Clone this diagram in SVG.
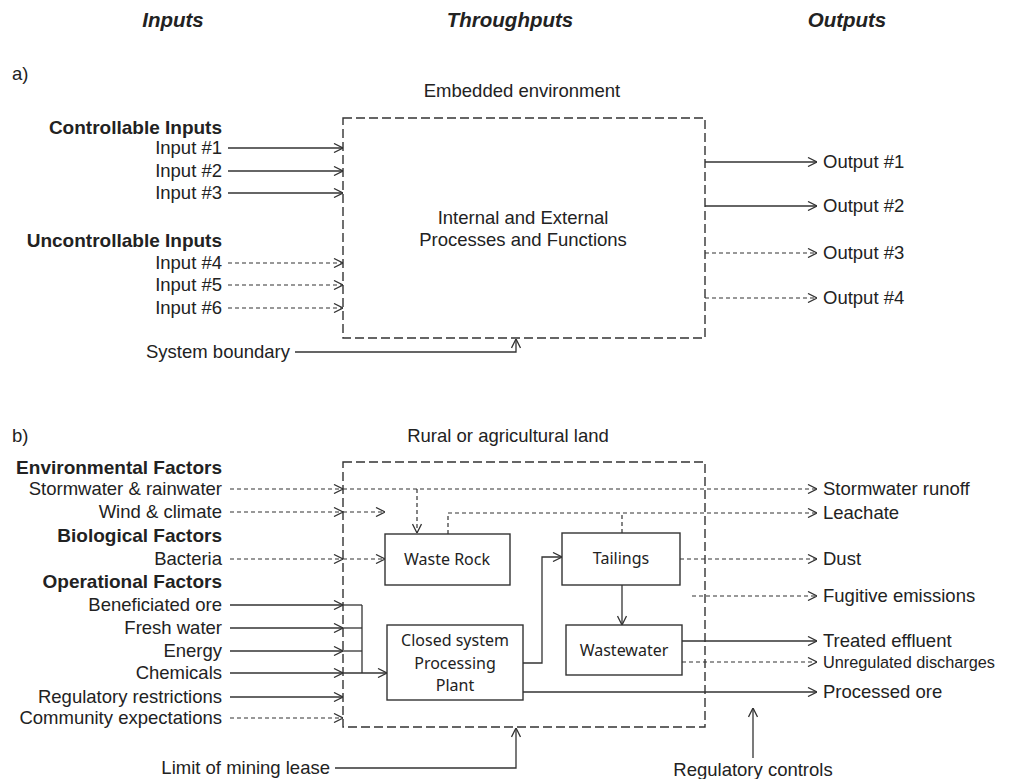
<svg xmlns="http://www.w3.org/2000/svg" width="1009" height="779" viewBox="0 0 1009 779">
<style>
text{font-family:"Liberation Sans",Arial,sans-serif;fill:#222;font-size:18.5px}
.h{font-weight:bold;font-style:italic;font-size:20.5px}
.b{font-weight:bold;font-size:19px}
.e{text-anchor:end}
.m{text-anchor:middle}
.bx{font-family:"Noto Sans","Open Sans",sans-serif;font-size:16px;text-anchor:middle}
.s{fill:none;stroke:#333;stroke-width:1.3}
.d{fill:none;stroke:#333;stroke-width:1.2;stroke-dasharray:4 3}
.bd{fill:none;stroke:#333;stroke-width:1.4;stroke-dasharray:9 4}
.node{fill:#fff;stroke:#333;stroke-width:1.4}
</style>
<defs>
<marker id="a" viewBox="0 0 10 10" refX="10" refY="5" markerWidth="10" markerHeight="10" markerUnits="userSpaceOnUse" orient="auto">
<path d="M1,0.5 L10,5 L1,9.5" fill="none" stroke="#333" stroke-width="1.3"/>
</marker>
</defs>
<rect width="1009" height="779" fill="#fff"/>

<g id="headers">
<text class="h m" x="173" y="27">Inputs</text>
<text class="h m" x="510" y="27">Throughputs</text>
<text class="h m" x="847" y="27">Outputs</text>
</g>

<!-- Part a -->
<g id="part-a-labels">
<text x="12" y="80">a)</text>
<text class="m" x="522" y="97">Embedded environment</text>
<text class="b e" x="222" y="134">Controllable Inputs</text>
<text class="e" x="222" y="154">Input #1</text>
<text class="e" x="222" y="177">Input #2</text>
<text class="e" x="222" y="199">Input #3</text>
<text class="b e" x="222" y="247">Uncontrollable Inputs</text>
<text class="e" x="222" y="269">Input #4</text>
<text class="e" x="222" y="291">Input #5</text>
<text class="e" x="222" y="314">Input #6</text>
<text x="823" y="168">Output #1</text>
<text x="823" y="212">Output #2</text>
<text x="823" y="259">Output #3</text>
<text x="823" y="304">Output #4</text>
<text class="e" x="290" y="358">System boundary</text>
</g>
<g id="system-a">
<rect class="bd" x="343" y="118" width="362" height="220"/>
<text class="m" x="523" y="224">Internal  and External</text>
<text class="m" x="523" y="246">Processes and Functions</text>
</g>
<g id="connectors-a">
<line class="s" x1="228" y1="148" x2="343" y2="148" marker-end="url(#a)"/>
<line class="s" x1="228" y1="171" x2="343" y2="171" marker-end="url(#a)"/>
<line class="s" x1="228" y1="193" x2="343" y2="193" marker-end="url(#a)"/>
<line class="d" x1="228" y1="263" x2="343" y2="263" marker-end="url(#a)"/>
<line class="d" x1="228" y1="285" x2="343" y2="285" marker-end="url(#a)"/>
<line class="d" x1="228" y1="308" x2="343" y2="308" marker-end="url(#a)"/>
<line class="s" x1="705" y1="162" x2="817" y2="162" marker-end="url(#a)"/>
<line class="s" x1="705" y1="206" x2="817" y2="206" marker-end="url(#a)"/>
<line class="d" x1="705" y1="253" x2="817" y2="253" marker-end="url(#a)"/>
<line class="d" x1="705" y1="298" x2="817" y2="298" marker-end="url(#a)"/>
<polyline class="s" points="295,352 516,352 516,339" marker-end="url(#a)"/>
</g>

<!-- Part b -->
<g id="part-b-labels">
<text x="12" y="442">b)</text>
<text class="m" x="508" y="442">Rural or agricultural land</text>
<text class="b e" x="222" y="474">Environmental Factors</text>
<text class="e" x="222" y="495">Stormwater &amp; rainwater</text>
<text class="e" x="222" y="518">Wind &amp; climate</text>
<text class="b e" x="222" y="542">Biological Factors</text>
<text class="e" x="222" y="565">Bacteria</text>
<text class="b e" x="222" y="588">Operational Factors</text>
<text class="e" x="222" y="611">Beneficiated ore</text>
<text class="e" x="222" y="634">Fresh water</text>
<text class="e" x="222" y="657">Energy</text>
<text class="e" x="222" y="679">Chemicals</text>
<text class="e" x="222" y="703">Regulatory restrictions</text>
<text class="e" x="222" y="724">Community expectations</text>
<text x="823" y="495">Stormwater runoff</text>
<text x="823" y="519">Leachate</text>
<text x="823" y="565">Dust</text>
<text x="823" y="602">Fugitive emissions</text>
<text x="823" y="647">Treated effluent</text>
<text x="823" y="668" style="font-size:16.3px">Unregulated discharges</text>
<text x="823" y="698">Processed ore</text>
<text class="e" x="330" y="774">Limit of mining lease</text>
<text class="m" x="753" y="776">Regulatory controls</text>
</g>
<g id="lease-boundary">
<rect class="bd" x="343" y="462" width="362" height="265"/>
</g>
<g id="waste-rock">
<rect class="node" x="385" y="534" width="125" height="51"/>
<text class="bx" x="447" y="565">Waste Rock</text>
</g>
<g id="tailings">
<rect class="node" x="562" y="533" width="118" height="52"/>
<text class="bx" x="621" y="564">Tailings</text>
</g>
<g id="wastewater">
<rect class="node" x="566" y="625" width="116" height="50"/>
<text class="bx" x="624" y="656">Wastewater</text>
</g>
<g id="processing-plant">
<rect class="node" x="387" y="625" width="136" height="75"/>
<text class="bx" x="455" y="646">Closed system</text>
<text class="bx" x="455" y="669">Processing</text>
<text class="bx" x="455" y="691">Plant</text>
</g>
<g id="connectors-b">
<line class="d" x1="230" y1="489" x2="343" y2="489" marker-end="url(#a)"/>
<line class="d" x1="343" y1="489" x2="817" y2="489" marker-end="url(#a)"/>
<line class="d" x1="417" y1="489" x2="417" y2="533" marker-end="url(#a)"/>
<line class="d" x1="230" y1="512" x2="343" y2="512" marker-end="url(#a)"/>
<line class="d" x1="343" y1="512" x2="385" y2="512" marker-end="url(#a)"/>
<polyline class="d" points="448,534 448,513 817,513" marker-end="url(#a)"/>
<line class="d" x1="622" y1="533" x2="622" y2="513"/>
<line class="d" x1="230" y1="559" x2="343" y2="559" marker-end="url(#a)"/>
<line class="d" x1="343" y1="559" x2="385" y2="559" marker-end="url(#a)"/>
<line class="d" x1="680" y1="559" x2="817" y2="559" marker-end="url(#a)"/>
<line class="d" x1="692" y1="596" x2="817" y2="596" marker-end="url(#a)"/>
<line class="s" x1="230" y1="605" x2="343" y2="605" marker-end="url(#a)"/>
<line class="s" x1="230" y1="628" x2="343" y2="628" marker-end="url(#a)"/>
<line class="s" x1="230" y1="651" x2="343" y2="651" marker-end="url(#a)"/>
<line class="s" x1="230" y1="673" x2="343" y2="673" marker-end="url(#a)"/>
<line class="s" x1="343" y1="605" x2="362" y2="605"/>
<line class="s" x1="343" y1="628" x2="362" y2="628"/>
<line class="s" x1="343" y1="651" x2="362" y2="651"/>
<line class="s" x1="362" y1="605" x2="362" y2="673"/>
<line class="s" x1="343" y1="673" x2="387" y2="673" marker-end="url(#a)"/>
<line class="s" x1="230" y1="697" x2="343" y2="697" marker-end="url(#a)"/>
<line class="d" x1="230" y1="718" x2="343" y2="718" marker-end="url(#a)"/>
<polyline class="s" points="523,663 542,663 542,557 562,557" marker-end="url(#a)"/>
<line class="s" x1="622" y1="585" x2="622" y2="625" marker-end="url(#a)"/>
<line class="s" x1="682" y1="641" x2="817" y2="641" marker-end="url(#a)"/>
<line class="d" x1="682" y1="662" x2="817" y2="662" marker-end="url(#a)"/>
<line class="s" x1="523" y1="692" x2="817" y2="692" marker-end="url(#a)"/>
<polyline class="s" points="335,768 516,768 516,728" marker-end="url(#a)"/>
<line class="s" x1="753" y1="758" x2="753" y2="708" marker-end="url(#a)"/>
</g>
</svg>
